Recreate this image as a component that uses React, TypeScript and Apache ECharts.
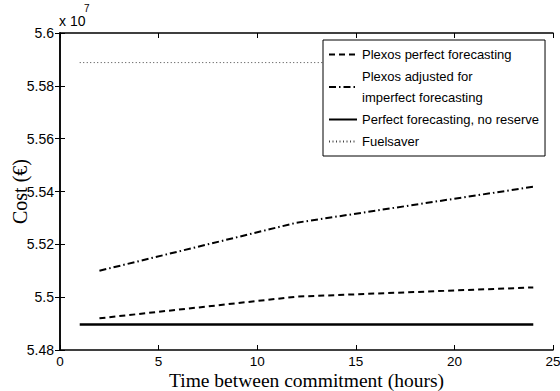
import React, { useEffect, useRef } from "react";
import * as echarts from "echarts";

// Data (cost values in euros)
const hoursFull = [1, 24];
const hoursPlexos = [2, 12, 24];
const plexosPerfect = [5.492e7, 5.5002e7, 5.5037e7];
const plexosAdjusted = [5.51e7, 5.5282e7, 5.5418e7];
const perfectNoReserve = [5.4897e7, 5.4897e7];
const fuelsaver = [5.5888e7, 5.5888e7];

const seriesNames = [
  "Plexos perfect forecasting",
  "Plexos adjusted for\nimperfect forecasting",
  "Perfect forecasting, no reserve",
  "Fuelsaver",
];

const xTicks = [0, 5, 10, 15, 20, 25];
const yTicksScaled = [5.48, 5.5, 5.52, 5.54, 5.56, 5.58, 5.6];
const yScale = 1e7;

const zip = (xs: number[], ys: number[]) => xs.map((x, i) => [x, ys[i]]);

const SANS = "'Liberation Sans', Arial, Helvetica, sans-serif";
const SERIF = "'Liberation Serif', 'Times New Roman', serif";

export default function App() {
  const ref = useRef<HTMLDivElement>(null);
  useEffect(() => {
    if (!ref.current) return;
    const chart = echarts.init(ref.current, undefined, { renderer: "svg" });
    const yMin = yTicksScaled[0] * yScale;
    const yMax = yTicksScaled[yTicksScaled.length - 1] * yScale;
    const yInterval = Math.round((yTicksScaled[1] - yTicksScaled[0]) * yScale);
    const xMin = xTicks[0];
    const xMax = xTicks[xTicks.length - 1];
    const xInterval = xTicks[1] - xTicks[0];
    const axisLineStyle = { color: "#000", width: 1.5 };
    const tick = { show: true, inside: true, length: 5, lineStyle: { color: "#000", width: 1 } };
    const labelStyle = { color: "#000", fontFamily: SANS, fontSize: 14, lineHeight: 12 };
    const fmtY = (v: number) => String(parseFloat((v / yScale).toFixed(2)));
    const noSymbol = { color: "rgba(0,0,0,0)", borderWidth: 0 };

    chart.setOption({
      animation: false,
      backgroundColor: "#fff",
      grid: {
        left: 60,
        right: 7,
        top: 33,
        bottom: 41,
        containLabel: false,
        outerBoundsMode: "none",
      },
      xAxis: [
        {
          type: "value",
          position: "bottom",
          min: xMin,
          max: xMax,
          interval: xInterval,
          axisLine: { show: true, lineStyle: axisLineStyle },
          axisTick: tick,
          axisLabel: { ...labelStyle, fontSize: 13.5, margin: 5 },
          splitLine: { show: false },
          name: "Time between commitment (hours)",
          nameLocation: "middle",
          nameGap: 22,
          nameMoveOverlap: false,
          nameTextStyle: { color: "#000", fontFamily: SERIF, fontSize: 19.5, lineHeight: 16 },
        },
        {
          type: "value",
          position: "top",
          min: xMin,
          max: xMax,
          interval: xInterval,
          axisLine: { show: true, lineStyle: axisLineStyle },
          axisTick: tick,
          axisLabel: { show: false },
          splitLine: { show: false },
        },
      ],
      yAxis: [
        {
          type: "value",
          position: "left",
          min: yMin,
          max: yMax,
          interval: yInterval,
          axisLine: { show: true, lineStyle: axisLineStyle },
          axisTick: tick,
          axisLabel: { ...labelStyle, margin: 6, formatter: fmtY },
          splitLine: { show: false },
          name: "Cost (€)",
          nameLocation: "middle",
          nameGap: 30,
          nameMoveOverlap: false,
          nameTextStyle: { color: "#000", fontFamily: SERIF, fontSize: 20, lineHeight: 20 },
        },
        {
          type: "value",
          position: "right",
          min: yMin,
          max: yMax,
          interval: yInterval,
          axisLine: { show: true, lineStyle: axisLineStyle },
          axisTick: tick,
          axisLabel: { show: false },
          splitLine: { show: false },
        },
      ],
      legend: {
        orient: "vertical",
        left: 323,
        top: 40,
        backgroundColor: "#fff",
        borderColor: "#000",
        borderWidth: 1,
        padding: [4, 6, 4, 5],
        itemGap: 1,
        itemWidth: 28,
        itemHeight: 14,
        itemStyle: noSymbol,
        textStyle: { color: "#000", fontFamily: SANS, fontSize: 13, lineHeight: 21 },
        data: seriesNames,
      },
      graphic: [
        {
          type: "text",
          left: 59,
          top: 14,
          style: { text: "x 10", fill: "#000", font: `14px ${SANS}`, lineHeight: 14 },
        },
        {
          type: "text",
          left: 84,
          top: 3,
          style: { text: "7", fill: "#000", font: `10px ${SANS}`, lineHeight: 10 },
        },
      ],
      series: [
        {
          name: seriesNames[0],
          type: "line",
          symbol: "none",
          data: zip(hoursPlexos, plexosPerfect),
          lineStyle: { color: "#000", width: 2, type: [6, 4] },
          itemStyle: noSymbol,
        },
        {
          name: seriesNames[1],
          type: "line",
          symbol: "none",
          data: zip(hoursPlexos, plexosAdjusted),
          lineStyle: { color: "#000", width: 2, type: [7, 3, 1.5, 3] },
          itemStyle: noSymbol,
        },
        {
          name: seriesNames[2],
          type: "line",
          symbol: "none",
          data: zip(hoursFull, perfectNoReserve),
          lineStyle: { color: "#000", width: 2.5, type: "solid" },
          itemStyle: noSymbol,
        },
        {
          name: seriesNames[3],
          type: "line",
          symbol: "none",
          data: zip(hoursFull, fuelsaver),
          lineStyle: { color: "#444", width: 1, type: [1, 2.5] },
          itemStyle: noSymbol,
        },
      ],
    });
    return () => chart.dispose();
  }, []);
  return <div ref={ref} style={{ width: 560, height: 391, position: "absolute", left: 0, top: 0 }} />;
}
